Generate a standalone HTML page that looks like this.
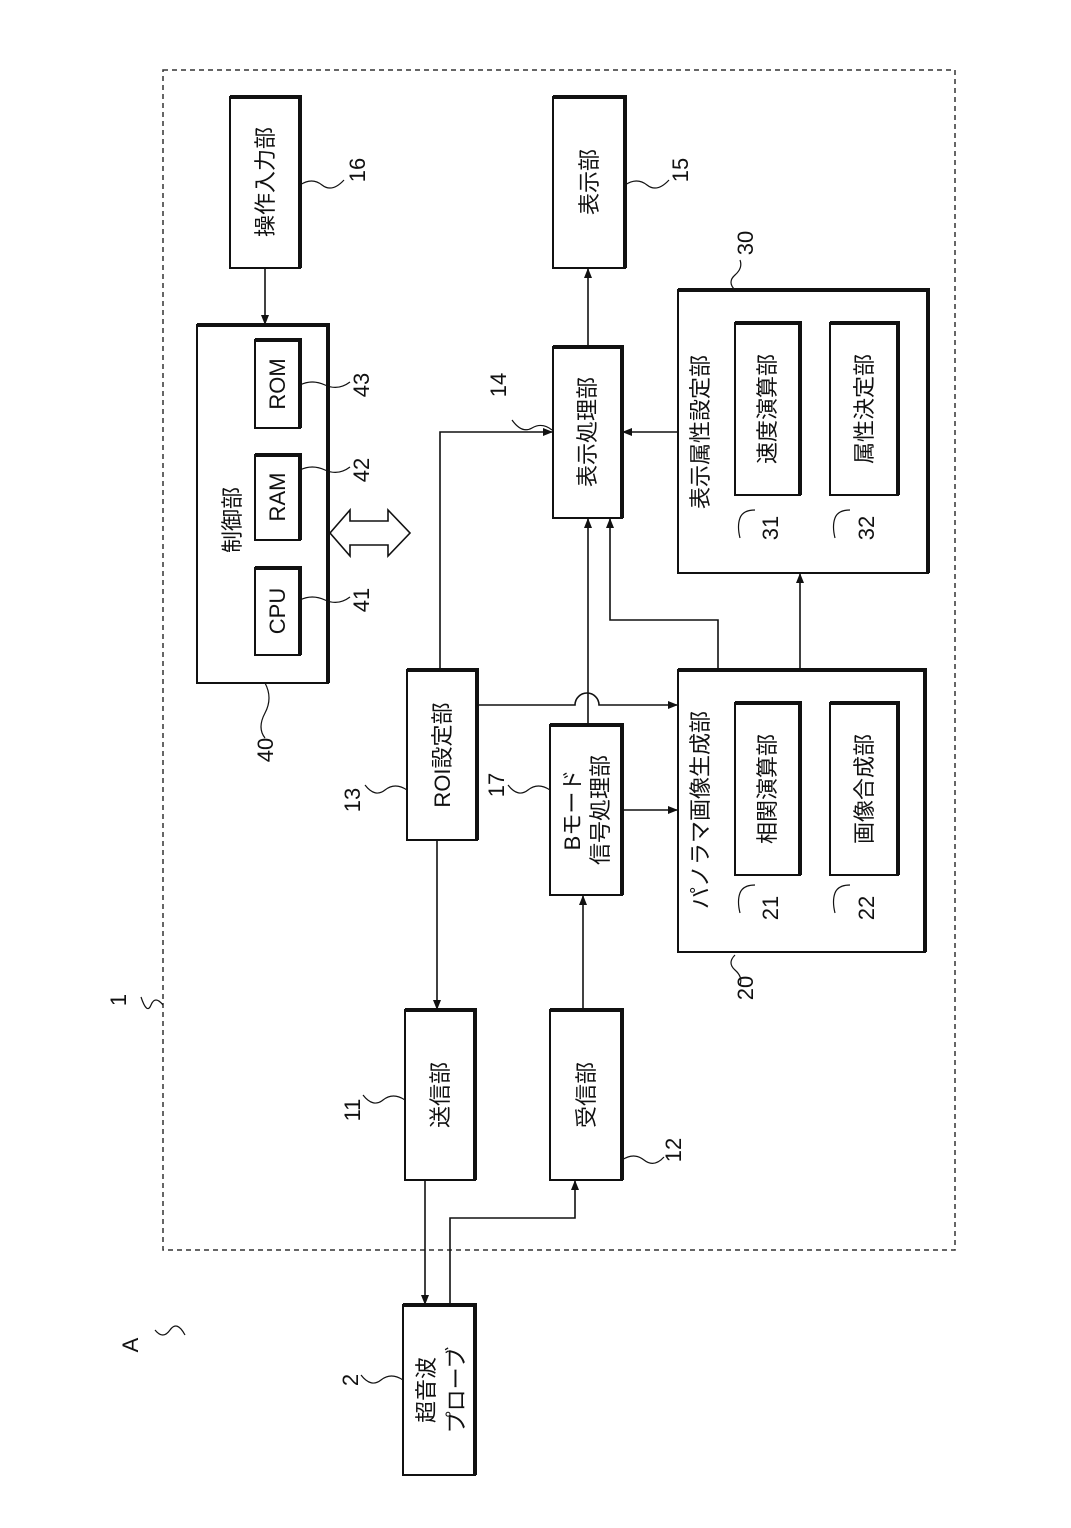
<!DOCTYPE html>
<html><head><meta charset="utf-8"><style>
html,body{margin:0;padding:0;background:#fff;}
svg{display:block;}
text{font-family:"Liberation Sans","Noto Sans CJK JP",sans-serif;fill:#111;}
</style></head><body>
<svg width="1071" height="1528" viewBox="0 0 1071 1528" xmlns="http://www.w3.org/2000/svg">
<defs>
<marker id="ah" markerWidth="10" markerHeight="10" refX="9" refY="5" orient="auto" markerUnits="userSpaceOnUse">
<path d="M0,1 L10,5 L0,9 Z" fill="#111"/></marker>
</defs>
<rect x="163" y="70" width="792" height="1180" fill="none" stroke="#333" stroke-width="1.5" stroke-dasharray="5,4"/>
<g fill="none" stroke="#111" stroke-width="2">
<rect x="230" y="97" width="70" height="171"/>
<rect x="553" y="97" width="72" height="171"/>
<rect x="197" y="325" width="131" height="358"/>
<rect x="255" y="568" width="45" height="87"/>
<rect x="255" y="455" width="45" height="85"/>
<rect x="255" y="340" width="45" height="88"/>
<rect x="553" y="347" width="69" height="171"/>
<rect x="678" y="290" width="250" height="283"/>
<rect x="735" y="323" width="65" height="172"/>
<rect x="830" y="323" width="68" height="172"/>
<rect x="407" y="670" width="70" height="170"/>
<rect x="550" y="725" width="72" height="170"/>
<rect x="678" y="670" width="247" height="282"/>
<rect x="735" y="703" width="65" height="172"/>
<rect x="830" y="703" width="68" height="172"/>
<rect x="405" y="1010" width="70" height="170"/>
<rect x="550" y="1010" width="72" height="170"/>
<rect x="403" y="1305" width="72" height="170"/>
</g>
<g stroke="#111" stroke-width="4" fill="none">
<path d="M230,97 H300 V268"/><path d="M553,97 H625 V268"/><path d="M197,325 H328 V683"/>
<path d="M255,568 H300 V655"/><path d="M255,455 H300 V540"/><path d="M255,340 H300 V428"/>
<path d="M553,347 H622 V518"/><path d="M678,290 H928 V573"/><path d="M735,323 H800 V495"/><path d="M830,323 H898 V495"/>
<path d="M407,670 H477 V840"/><path d="M550,725 H622 V895"/><path d="M678,670 H925 V952"/>
<path d="M735,703 H800 V875"/><path d="M830,703 H898 V875"/>
<path d="M405,1010 H475 V1180"/><path d="M550,1010 H622 V1180"/><path d="M403,1305 H475 V1475"/>
</g>
<g stroke="#111" stroke-width="1.6" fill="none" marker-end="url(#ah)">
<path d="M265,268 V324"/>
<path d="M588,347 V269"/>
<path d="M678,432 H623"/>
<path d="M440,670 V432 H552"/>
<path d="M437,840 V1009"/>
<path d="M477,705 H575 A12,12 0 0 1 599,705 H677"/>
<path d="M588,725 V519"/>
<path d="M622,810 H677"/>
<path d="M800,670 V574"/>
<path d="M718,670 V620 H610 V519"/>
<path d="M583,1010 V896"/>
<path d="M425,1180 V1304"/>
<path d="M450,1305 V1218 H575 V1181"/>
</g>
<path d="M330,533 L350,510 V521 H388 V510 L410,533 L388,556 V545 H350 V556 Z" fill="#fff" stroke="#111" stroke-width="1.6"/>
<g stroke="#111" stroke-width="1.2" fill="none">
<path d="M300,185 q12,-8 22,0 t22,-5"/>
<path d="M625,185 q12,-8 22,0 t22,-5"/>
<path d="M300,385 q12,-6 25,0 t25,-3"/>
<path d="M300,470 q12,-6 25,0 t25,-3"/>
<path d="M300,600 q12,-6 25,0 t25,-3"/>
<path d="M552,430 q-10,-8 -20,-2 t-20,-8"/>
<path d="M265,683 q8,15 0,30 t0,25"/>
<path d="M407,790 q-12,-8 -22,0 t-20,-5"/>
<path d="M550,790 q-12,-8 -22,0 t-20,-5"/>
<path d="M405,1100 q-12,-8 -22,0 t-20,-5"/>
<path d="M622,1160 q12,-8 22,0 t20,-3"/>
<path d="M735,290 q-8,-8 0,-15 t5,-15"/>
<path d="M735,955 q-8,8 0,15 t5,15"/>
<path d="M755,510 q-12,0 -15,8 t0,20"/>
<path d="M850,510 q-12,0 -15,8 t0,20"/>
<path d="M755,885 q-12,0 -15,8 t0,20"/>
<path d="M850,885 q-12,0 -15,8 t0,20"/>
<path d="M163,1005 q-8,-10 -12,0 t-10,-8"/>
<path d="M403,1380 q-12,-8 -22,0 t-20,-5"/>
<path d="M155,1330 q8,10 15,0 t15,5"/>
</g>
<g font-size="22" text-anchor="middle">
<text transform="translate(265,182) rotate(-90)" dy="8">操作入力部</text>
<text transform="translate(589,182) rotate(-90)" dy="8">表示部</text>
<text transform="translate(232,520) rotate(-90)" dy="8">制御部</text>
<text transform="translate(277,611) rotate(-90)" dy="8">CPU</text>
<text transform="translate(277,497) rotate(-90)" dy="8">RAM</text>
<text transform="translate(277,384) rotate(-90)" dy="8">ROM</text>
<text transform="translate(587,432) rotate(-90)" dy="8">表示処理部</text>
<text transform="translate(700,432) rotate(-90)" dy="8">表示属性設定部</text>
<text transform="translate(767,409) rotate(-90)" dy="8">速度演算部</text>
<text transform="translate(864,409) rotate(-90)" dy="8">属性決定部</text>
<text transform="translate(442,755) rotate(-90)" dy="8">ROI設定部</text>
<text transform="translate(572,810) rotate(-90)" dy="8">Bモード</text>
<text transform="translate(600,810) rotate(-90)" dy="8">信号処理部</text>
<text transform="translate(700,810) rotate(-90)" dy="8">パノラマ画像生成部</text>
<text transform="translate(767,789) rotate(-90)" dy="8">相関演算部</text>
<text transform="translate(864,789) rotate(-90)" dy="8">画像合成部</text>
<text transform="translate(440,1095) rotate(-90)" dy="8">送信部</text>
<text transform="translate(586,1095) rotate(-90)" dy="8">受信部</text>
<text transform="translate(426,1390) rotate(-90)" dy="8">超音波</text>
<text transform="translate(456,1390) rotate(-90)" dy="8">プローブ</text>
</g>
<g font-size="22" text-anchor="middle">
<text transform="translate(357,170) rotate(-90)" dy="8">16</text>
<text transform="translate(680,170) rotate(-90)" dy="8">15</text>
<text transform="translate(745,243) rotate(-90)" dy="8">30</text>
<text transform="translate(498,385) rotate(-90)" dy="8">14</text>
<text transform="translate(361,385) rotate(-90)" dy="8">43</text>
<text transform="translate(361,470) rotate(-90)" dy="8">42</text>
<text transform="translate(361,600) rotate(-90)" dy="8">41</text>
<text transform="translate(770,528) rotate(-90)" dy="8">31</text>
<text transform="translate(866,528) rotate(-90)" dy="8">32</text>
<text transform="translate(265,750) rotate(-90)" dy="8">40</text>
<text transform="translate(352,800) rotate(-90)" dy="8">13</text>
<text transform="translate(496,785) rotate(-90)" dy="8">17</text>
<text transform="translate(770,908) rotate(-90)" dy="8">21</text>
<text transform="translate(866,908) rotate(-90)" dy="8">22</text>
<text transform="translate(745,988) rotate(-90)" dy="8">20</text>
<text transform="translate(352,1110) rotate(-90)" dy="8">11</text>
<text transform="translate(673,1150) rotate(-90)" dy="8">12</text>
<text transform="translate(118,1000) rotate(-90)" dy="8">1</text>
<text transform="translate(350,1380) rotate(-90)" dy="8">2</text>
<text transform="translate(130,1345) rotate(-90)" dy="8">A</text>
</g>
</svg>
</body></html>
